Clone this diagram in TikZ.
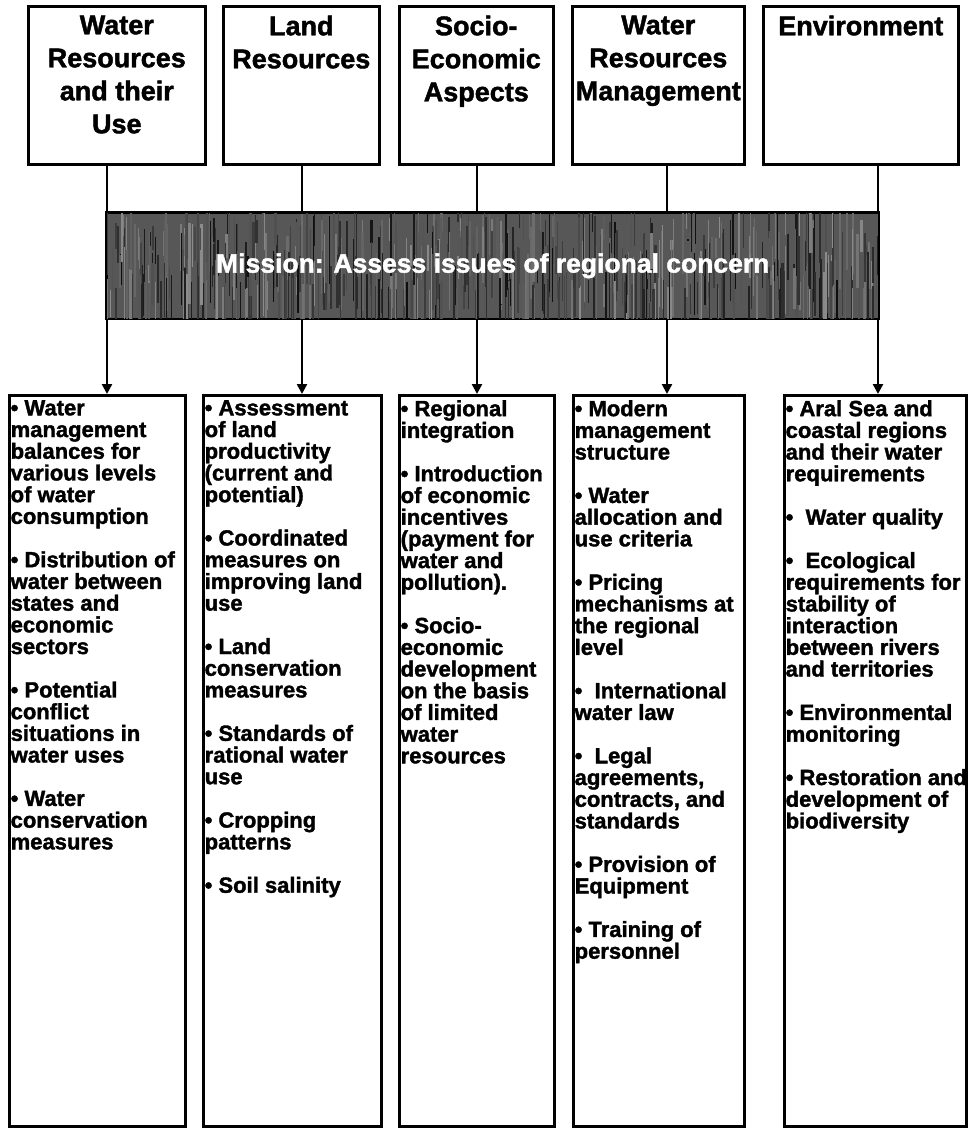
\documentclass[tikz,border=0pt]{standalone}
\usepackage{fontspec}
\setmainfont{Liberation Sans}
\newfontfamily\heavy{Liberation Sans Bold}[FakeBold=1.6]
\usetikzlibrary{arrows.meta}
\tikzset{
  box/.style={draw=black, line width=2.6pt, inner sep=0pt, anchor=north west},
  ttl/.style={font=\fontsize{27}{33}\selectfont\heavy, align=center, inner sep=0pt, anchor=north},
  lst/.style={font=\fontsize{22}{21.7}\selectfont\heavy, align=left, inner sep=0pt, anchor=north west},
  conn/.style={line width=2.4pt, black},
  arr/.style={conn, -{Triangle[length=10pt,width=10pt]}},
  bandbox/.style={draw=black, line width=1.6pt, fill=black!66, inner sep=0pt, anchor=north west},
  bandtext/.style={font=\fontsize{26.5}{30}\selectfont\heavy, text=white, inner sep=0pt}
}
\begin{document}
\begin{tikzpicture}[x=1pt,y=-1pt]
\useasboundingbox (0,0) rectangle (968,1129);

% connector x positions
\coordinate (c1) at (107,0);
\coordinate (c2) at (302,0);
\coordinate (c3) at (477,0);
\coordinate (c4) at (667,0);
\coordinate (c5) at (878,0);

% top boxes
\node[box, minimum width=177pt, minimum height=158pt] (t1) at (27,5) {};
\node[box, minimum width=156pt, minimum height=158pt] (t2) at (222,5) {};
\node[box, minimum width=154pt, minimum height=158pt] (t3) at (398,5) {};
\node[box, minimum width=172pt, minimum height=158pt] (t4) at (571,5) {};
\node[box, minimum width=195pt, minimum height=158pt] (t5) at (762,5) {};

\node[ttl] (t1txt) at ([yshift=-10.5pt]t1.north) {Water\\Resources\\and their\\Use};
\node[ttl] (t2txt) at ([yshift=-10.5pt]t2.north) {Land\\Resources};
\node[ttl] (t3txt) at ([yshift=-10.5pt]t3.north) {Socio-\\Economic\\Aspects};
\node[ttl] (t4txt) at ([yshift=-10.5pt]t4.north) {Water\\Resources\\Management};
\node[ttl] (t5txt) at ([yshift=-10.5pt]t5.north) {Environment};

% mission band
\node[bandbox, minimum width=772pt, minimum height=106pt] (band) at (106,212) {};
\begin{scope}
  \clip (band.north west) rectangle (band.south east);
  \pgfmathsetseed{11}
  \foreach \i in {1,...,600}{
    \pgfmathsetmacro\xx{106+rnd*772}
    \pgfmathsetmacro\yy{200+rnd*90}
    \pgfmathsetmacro\ll{20+rnd*70}
    \pgfmathsetmacro\gg{45+rnd*50}
    \pgfmathsetmacro\ww{0.5+rnd*2.2}
    \draw[line width=\ww pt, black!\gg] (\xx,\yy) -- ++(0,\ll);
  }
\end{scope}
\draw[line width=1.6pt] (band.north west) rectangle (band.south east);
\node[bandtext] (mission) at (band.center) {Mission: Assess issues of regional concern};

% bottom boxes
\node[box, minimum width=176pt, minimum height=731pt] (b1) at (8,394) {};
\node[box, minimum width=178pt, minimum height=731pt] (b2) at (202,394) {};
\node[box, minimum width=155pt, minimum height=731pt] (b3) at (398,394) {};
\node[box, minimum width=171pt, minimum height=731pt] (b4) at (572,394) {};
\node[box, minimum width=182pt, minimum height=731pt] (b5) at (783,394) {};

\node[lst] (b1txt) at ([xshift=2.5pt,yshift=-6pt]b1.north west) {%
• Water\\management\\balances for\\various levels\\of water\\consumption\\[21.7pt]
• Distribution of\\water between\\states and\\economic\\sectors\\[21.7pt]
• Potential\\conflict\\situations in\\water uses\\[21.7pt]
• Water\\conservation\\measures};

\node[lst] (b2txt) at ([xshift=2.5pt,yshift=-6pt]b2.north west) {%
• Assessment\\of land\\productivity\\(current and\\potential)\\[21.7pt]
• Coordinated\\measures on\\improving land\\use\\[21.7pt]
• Land\\conservation\\measures\\[21.7pt]
• Standards of\\rational water\\use\\[21.7pt]
• Cropping\\patterns\\[21.7pt]
• Soil salinity};

\node[lst] (b3txt) at ([xshift=2.5pt,yshift=-6pt]b3.north west) {%
• Regional\\integration\\[21.7pt]
• Introduction\\of economic\\incentives\\(payment for\\water and\\pollution).\\[21.7pt]
• Socio-\\economic\\development\\on the basis\\of limited\\water\\resources};

\node[lst] (b4txt) at ([xshift=2.5pt,yshift=-6pt]b4.north west) {%
• Modern\\management\\structure\\[21.7pt]
• Water\\allocation and\\use criteria\\[21.7pt]
• Pricing\\mechanisms at\\the regional\\level\\[21.7pt]
• ~International\\water law\\[21.7pt]
• ~Legal\\agreements,\\contracts, and\\standards\\[21.7pt]
• Provision of\\Equipment\\[21.7pt]
• Training of\\personnel};

\node[lst] (b5txt) at ([xshift=2.5pt,yshift=-6pt]b5.north west) {%
• Aral Sea and\\coastal regions\\and their water\\requirements\\[21.7pt]
• ~Water quality\\[21.7pt]
• ~Ecological\\requirements for\\stability of\\interaction\\between rivers\\and territories\\[21.7pt]
• Environmental\\monitoring\\[21.7pt]
• Restoration and\\development of\\biodiversity};

% connectors top boxes -> band
\draw[conn] (t1.south -| c1) -- (band.north -| c1);
\draw[conn] (t2.south -| c2) -- (band.north -| c2);
\draw[conn] (t3.south -| c3) -- (band.north -| c3);
\draw[conn] (t4.south -| c4) -- (band.north -| c4);
\draw[conn] (t5.south -| c5) -- (band.north -| c5);

% arrows band -> bottom boxes
\draw[arr] (band.south -| c1) -- (b1.north -| c1);
\draw[arr] (band.south -| c2) -- (b2.north -| c2);
\draw[arr] (band.south -| c3) -- (b3.north -| c3);
\draw[arr] (band.south -| c4) -- (b4.north -| c4);
\draw[arr] (band.south -| c5) -- (b5.north -| c5);
\end{tikzpicture}
\end{document}
